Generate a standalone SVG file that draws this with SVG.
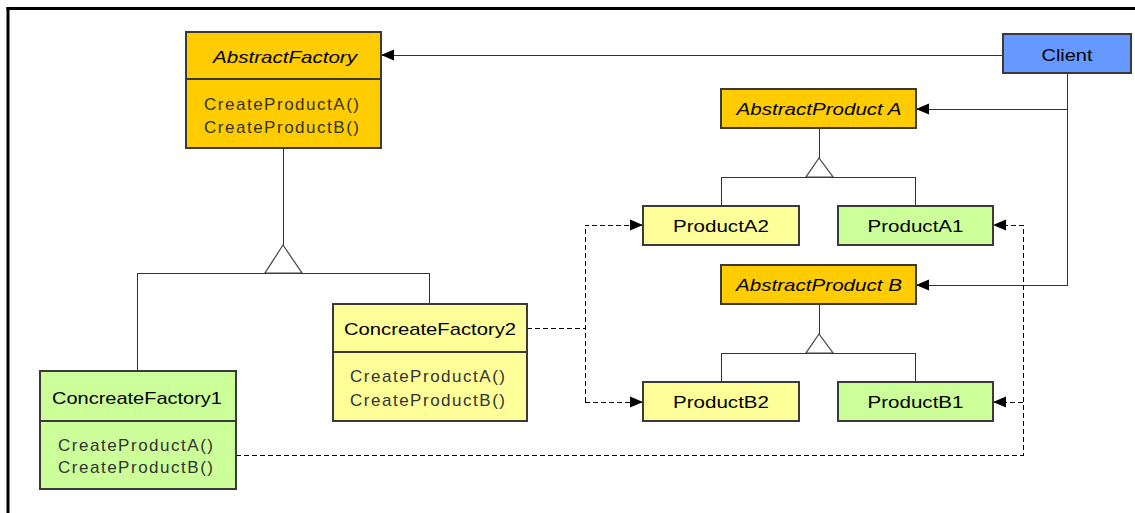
<svg xmlns="http://www.w3.org/2000/svg" width="1135" height="513" viewBox="0 0 1135 513">
<style>
.box{stroke:#3a3a3a;stroke-width:1.2;shape-rendering:crispEdges}
.abs{fill:#FFCC00}
.cli{fill:#6699FF}
.yel{fill:#FFFF99}
.grn{fill:#CCFF99}
.t{font-family:"Liberation Sans",Arial,sans-serif;font-size:17px;fill:#000;text-anchor:middle}
.i{font-style:italic}
.m{font-family:"Liberation Sans",Arial,sans-serif;font-size:17px;fill:#333;text-anchor:start}
.ln{stroke:#333;stroke-width:1;fill:none;shape-rendering:crispEdges}
.ds{stroke:#000;stroke-width:1;fill:none;stroke-dasharray:5,3;shape-rendering:crispEdges}
.tri{stroke:#444;stroke-width:1.2;fill:#fff}
</style>
<defs>
<marker id="arr" markerUnits="userSpaceOnUse" markerWidth="14" markerHeight="12" refX="13" refY="6" orient="auto">
<path d="M0,0.5 L13,6 L0,11.5 z" fill="#000"/>
</marker>
</defs>
<g id="frame">
<line x1="6.5" y1="8.5" x2="1135" y2="8.5" stroke="#000" stroke-width="3"/>
<line x1="8" y1="7" x2="8" y2="513" stroke="#000" stroke-width="3"/>
</g>
<g id="connectors">
<line class="ln" x1="1003" y1="55" x2="381" y2="55" marker-end="url(#arr)"/>
<polyline class="ln" points="1067,73 1067,285 916,285" marker-end="url(#arr)"/>
<line class="ln" x1="1067" y1="109" x2="916" y2="109" marker-end="url(#arr)"/>
<line class="ln" x1="283" y1="148" x2="283" y2="245"/>
<polyline class="ln" points="137,371 137,273 429,273 429,304"/>
<polygon class="tri" points="283,245 265,273 302,273"/>
<line class="ln" x1="819" y1="128" x2="819" y2="158"/>
<polyline class="ln" points="721,206 721,177 915,177 915,206"/>
<polygon class="tri" points="819,158 806,177 833,177"/>
<line class="ln" x1="819" y1="304" x2="819" y2="334"/>
<polyline class="ln" points="721,382 721,353 915,353 915,382"/>
<polygon class="tri" points="819,334 806,353 833,353"/>
<line class="ds" x1="527" y1="328" x2="585" y2="328"/>
<polyline class="ds" points="585,402 585,225 643,225" marker-end="url(#arr)"/>
<line class="ds" x1="585" y1="402" x2="643" y2="402" marker-end="url(#arr)"/>
<polyline class="ds" points="236,455 1023,455 1023,225 993,225" marker-end="url(#arr)"/>
<line class="ds" x1="1023" y1="402" x2="993" y2="402" marker-end="url(#arr)"/>
</g>
<g id="AbstractFactory">
<rect class="box abs" x="186" y="32" width="195" height="116"/>
<line class="box" x1="186" y1="79" x2="381" y2="79"/>
<text class="t i" x="285" y="63" textLength="144" lengthAdjust="spacingAndGlyphs">AbstractFactory</text>
<text class="m" x="204" y="110" textLength="155" lengthAdjust="spacing">CreateProductA()</text>
<text class="m" x="204" y="133" textLength="155" lengthAdjust="spacing">CreateProductB()</text>
</g>
<g id="Client">
<rect class="box cli" x="1003" y="34" width="128" height="39"/>
<text class="t" x="1067" y="61" textLength="51" lengthAdjust="spacingAndGlyphs">Client</text>
</g>
<g id="AbstractProductA">
<rect class="box abs" x="721" y="89" width="195" height="39"/>
<text class="t i" x="819" y="115" textLength="165" lengthAdjust="spacingAndGlyphs">AbstractProduct A</text>
</g>
<g id="ProductA2">
<rect class="box yel" x="643" y="206" width="156" height="39"/>
<text class="t" x="721" y="232" textLength="96" lengthAdjust="spacingAndGlyphs">ProductA2</text>
</g>
<g id="ProductA1">
<rect class="box grn" x="838" y="206" width="155" height="39"/>
<text class="t" x="915.5" y="232" textLength="96" lengthAdjust="spacingAndGlyphs">ProductA1</text>
</g>
<g id="AbstractProductB">
<rect class="box abs" x="721" y="265" width="195" height="39"/>
<text class="t i" x="819" y="291" textLength="166" lengthAdjust="spacingAndGlyphs">AbstractProduct B</text>
</g>
<g id="ProductB2">
<rect class="box yel" x="643" y="382" width="156" height="39"/>
<text class="t" x="721" y="408" textLength="96" lengthAdjust="spacingAndGlyphs">ProductB2</text>
</g>
<g id="ProductB1">
<rect class="box grn" x="838" y="382" width="155" height="39"/>
<text class="t" x="915.5" y="408" textLength="96" lengthAdjust="spacingAndGlyphs">ProductB1</text>
</g>
<g id="ConcreateFactory2">
<rect class="box yel" x="333" y="304" width="194" height="117"/>
<line class="box" x1="333" y1="352" x2="527" y2="352"/>
<text class="t" x="430" y="335" textLength="172" lengthAdjust="spacingAndGlyphs">ConcreateFactory2</text>
<text class="m" x="350" y="382" textLength="155" lengthAdjust="spacing">CreateProductA()</text>
<text class="m" x="350" y="406" textLength="155" lengthAdjust="spacing">CreateProductB()</text>
</g>
<g id="ConcreateFactory1">
<rect class="box grn" x="40" y="371" width="196" height="118"/>
<line class="box" x1="40" y1="421" x2="236" y2="421"/>
<text class="t" x="137" y="404" textLength="170" lengthAdjust="spacingAndGlyphs">ConcreateFactory1</text>
<text class="m" x="58" y="451" textLength="155" lengthAdjust="spacing">CreateProductA()</text>
<text class="m" x="58" y="473" textLength="155" lengthAdjust="spacing">CreateProductB()</text>
</g>
</svg>
